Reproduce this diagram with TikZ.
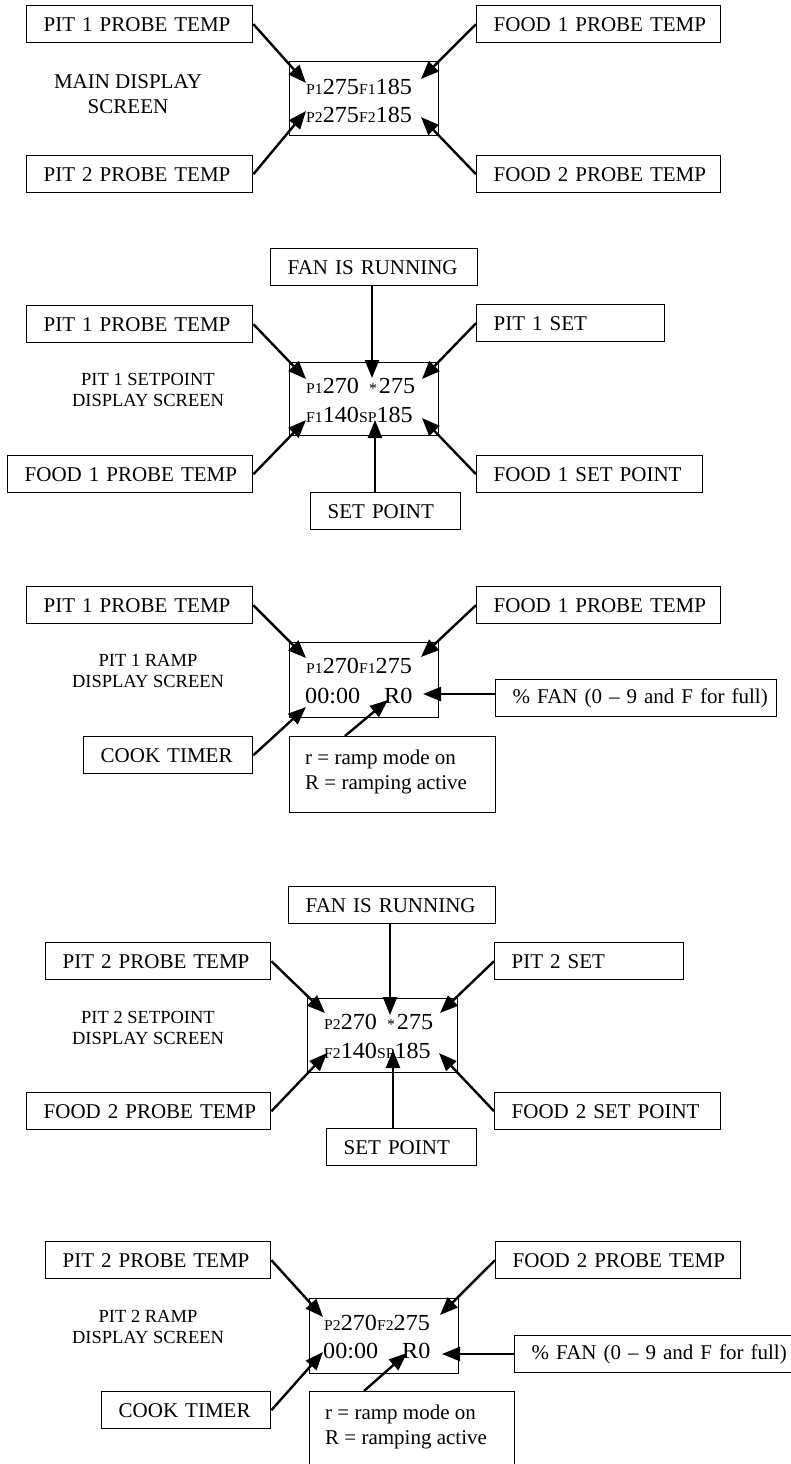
\documentclass[tikz,border=0pt]{standalone}
\usepackage{fontspec}
\setmainfont{Liberation Serif}
\newfontfamily\lcdfont[FakeStretch=1.05]{Liberation Serif}
\usetikzlibrary{arrows.meta}
\newcommand\lbltext{\fontsize{21}{25}\selectfont}
\newcommand\captext{\fontsize{18.5}{21}\selectfont}
\newcommand\lcdtext{\lcdfont\fontsize{23}{28}\selectfont}
\newcommand\lcdtag[1]{{\fontsize{15}{15}\selectfont #1}}
\newcommand\lcdstar{{\fontsize{15}{15}\selectfont *}}
\tikzset{
lbl/.style={draw,line width=1.4pt,anchor=north west,font=\lbltext,minimum height=37pt,inner xsep=0pt,inner ysep=0pt,text width=#1,align=left,execute at begin node={\hspace*{17pt}}},
disp/.style 2 args={draw,line width=1.4pt,anchor=north west,minimum width=#1,minimum height=#2,inner sep=0pt},
lcd/.style={anchor=base west,inner sep=0pt,font=\lcdtext},
scrcap/.style={align=center,inner sep=0pt,font=\captext},
notebox/.style={anchor=north west,align=left,inner sep=0pt,font=\lbltext},
ptr/.style={line width=2.4pt,-{Triangle[length=18pt,width=14pt]}}
}
\begin{document}
\begin{tikzpicture}[x=1pt,y=-1pt]
\clip (0,0) rectangle (791,1464);
\node[lbl=226pt] (pitA) at (26,5) {PIT 1 PROBE TEMP};
\node[lbl=244pt] (foodA) at (476,5) {FOOD 1 PROBE TEMP};
\node[lbl=226pt] (pitB) at (26,155) {PIT 2 PROBE TEMP};
\node[lbl=244pt] (foodB) at (476,155) {FOOD 2 PROBE TEMP};
\node[disp={149pt}{74pt}] (mainScr) at (289,61) {};
\node[lcd] (mainL1) at ([shift={(17,33)}]mainScr.north west) {\lcdtag{P1}275\lcdtag{F1}185};
\node[lcd] (mainL2) at ([shift={(17,61)}]mainScr.north west) {\lcdtag{P2}275\lcdtag{F2}185};
\node[scrcap,font=\lbltext] (mainCap) at (128,94) {MAIN DISPLAY\\SCREEN};
\coordinate (mainP1) at ([shift={(17,22)}]mainScr.north west);
\coordinate (mainP2) at ([shift={(17,50)}]mainScr.north west);
\coordinate (mainF1) at ([shift={(132,18)}]mainScr.north west);
\coordinate (mainF2) at ([shift={(132,56)}]mainScr.north west);
\draw[ptr] (pitA.east)--(mainP1);
\draw[ptr] (pitB.east)--(mainP2);
\draw[ptr] (foodA.west)--(mainF1);
\draw[ptr] (foodB.west)--(mainF2);

\node[lbl=207pt] (fanA) at (270,248) {FAN IS RUNNING};
\node[lbl=226pt] (pitC) at (26,305) {PIT 1 PROBE TEMP};
\node[lbl=188pt] (setA) at (476,304) {PIT 1 SET};
\node[lbl=245pt] (foodC) at (7,455) {FOOD 1 PROBE TEMP};
\node[lbl=226pt] (fsetA) at (476,455) {FOOD 1 SET POINT};
\node[lbl=150pt] (spA) at (310,492) {SET POINT};
\node[disp={149pt}{73pt}] (spScrA) at (289,362) {};
\node[lcd] (spA1) at ([shift={(17,31)}]spScrA.north west) {\lcdtag{P1}270\hspace{10pt}\lcdstar\hspace{2pt}275};
\node[lcd] (spA2) at ([shift={(17,60)}]spScrA.north west) {\lcdtag{F1}140\lcdtag{SP}185};
\node[scrcap] (spCapA) at (148,390) {PIT 1 SETPOINT\\DISPLAY SCREEN};
\coordinate (spAp) at ([shift={(17,17)}]spScrA.north west);
\coordinate (spAfan) at ([shift={(83,16)}]spScrA.north west);
\coordinate (spAset) at ([shift={(133,17)}]spScrA.north west);
\coordinate (spAf) at ([shift={(17,58)}]spScrA.north west);
\coordinate (spAsp) at ([shift={(86,58)}]spScrA.north west);
\coordinate (spAfs) at ([shift={(133,56)}]spScrA.north west);
\draw[ptr] (pitC.east)--(spAp);
\draw[ptr] (spAfan |- fanA.south)--(spAfan);
\draw[ptr] (setA.west)--(spAset);
\draw[ptr] (foodC.east)--(spAf);
\draw[ptr] (spAsp |- spA.north)--(spAsp);
\draw[ptr] (fsetA.west)--(spAfs);

\node[lbl=226pt] (pitD) at (26,586) {PIT 1 PROBE TEMP};
\node[lbl=244pt] (foodD) at (476,586) {FOOD 1 PROBE TEMP};
\node[lbl=169pt] (cookA) at (83,736) {COOK TIMER};
\node[lbl=281pt] (pctA) at (495,679) {\% FAN (0 -- 9 and F for full)};
\node[disp={149pt}{75pt}] (rampA) at (289,642) {};
\node[disp={206pt}{76pt}] (modeA) at (289,736) {};
\node[notebox] (modeAtxt) at ([shift={(16,14)}]modeA.north west) {r = ramp mode on\\R = ramping active};
\node[lcd] (rampA1) at ([shift={(17,31)}]rampA.north west) {\lcdtag{P1}270\lcdtag{F1}275};
\node[lcd] (rampA2) at ([shift={(16,61)}]rampA.north west) {00:00\hspace{24pt}R0};
\node[scrcap] (rampCapA) at (148,671) {PIT 1 RAMP\\DISPLAY SCREEN};
\coordinate (rampAp) at ([shift={(17,16)}]rampA.north west);
\coordinate (rampAf) at ([shift={(132,15)}]rampA.north west);
\coordinate (rampAt) at ([shift={(17,65)}]rampA.north west);
\coordinate (rampAr) at ([shift={(99,58)}]rampA.north west);
\coordinate (rampAfan) at ([shift={(134,52)}]rampA.north west);
\draw[ptr] (pitD.east)--(rampAp);
\draw[ptr] (foodD.west)--(rampAf);
\draw[ptr] (cookA.east)--(rampAt);
\draw[ptr] ([xshift=56pt]modeA.north west)--(rampAr);
\draw[ptr] (pctA.west |- rampAfan)--(rampAfan);

\node[lbl=207pt] (fanB) at (288,886) {FAN IS RUNNING};
\node[lbl=225pt] (pitE) at (45,942) {PIT 2 PROBE TEMP};
\node[lbl=189pt] (setB) at (494,942) {PIT 2 SET};
\node[lbl=244pt] (foodE) at (26,1092) {FOOD 2 PROBE TEMP};
\node[lbl=226pt] (fsetB) at (494,1092) {FOOD 2 SET POINT};
\node[lbl=150pt] (spB) at (326,1128) {SET POINT};
\node[disp={150pt}{74pt}] (spScrB) at (307,998) {};
\node[lcd] (spB1) at ([shift={(17,31)}]spScrB.north west) {\lcdtag{P2}270\hspace{10pt}\lcdstar\hspace{2pt}275};
\node[lcd] (spB2) at ([shift={(17,60)}]spScrB.north west) {\lcdtag{F2}140\lcdtag{SP}185};
\node[scrcap] (spCapB) at (148,1028) {PIT 2 SETPOINT\\DISPLAY SCREEN};
\coordinate (spBp) at ([shift={(18,15)}]spScrB.north west);
\coordinate (spBfan) at ([shift={(83,17)}]spScrB.north west);
\coordinate (spBset) at ([shift={(133,15)}]spScrB.north west);
\coordinate (spBf) at ([shift={(20,55)}]spScrB.north west);
\coordinate (spBsp) at ([shift={(86,52)}]spScrB.north west);
\coordinate (spBfs) at ([shift={(132,55)}]spScrB.north west);
\draw[ptr] (pitE.east)--(spBp);
\draw[ptr] (spBfan |- fanB.south)--(spBfan);
\draw[ptr] (setB.west)--(spBset);
\draw[ptr] (foodE.east)--(spBf);
\draw[ptr] (spBsp |- spB.north)--(spBsp);
\draw[ptr] (fsetB.west)--(spBfs);

\node[lbl=225pt] (pitF) at (45,1241) {PIT 2 PROBE TEMP};
\node[lbl=245pt] (foodF) at (495,1241) {FOOD 2 PROBE TEMP};
\node[lbl=169pt] (cookB) at (101,1391) {COOK TIMER};
\node[lbl=281pt] (pctB) at (514,1335) {\% FAN (0 -- 9 and F for full)};
\node[disp={149pt}{75pt}] (rampB) at (309,1298) {};
\node[disp={205pt}{90pt}] (modeB) at (309,1391) {};
\node[notebox] (modeBtxt) at ([shift={(16,14)}]modeB.north west) {r = ramp mode on\\R = ramping active};
\node[lcd] (rampB1) at ([shift={(15,32)}]rampB.north west) {\lcdtag{P2}270\lcdtag{F2}275};
\node[lcd] (rampB2) at ([shift={(14,60)}]rampB.north west) {00:00\hspace{24pt}R0};
\node[scrcap] (rampCapB) at (148,1327) {PIT 2 RAMP\\DISPLAY SCREEN};
\coordinate (rampBp) at ([shift={(14,19)}]rampB.north west);
\coordinate (rampBf) at ([shift={(131,17)}]rampB.north west);
\coordinate (rampBt) at ([shift={(14,54)}]rampB.north west);
\coordinate (rampBr) at ([shift={(98,55)}]rampB.north west);
\coordinate (rampBfan) at ([shift={(133,56)}]rampB.north west);
\draw[ptr] (pitF.east)--(rampBp);
\draw[ptr] (foodF.west)--(rampBf);
\draw[ptr] (cookB.east)--(rampBt);
\draw[ptr] ([xshift=55pt]modeB.north west)--(rampBr);
\draw[ptr] (pctB.west |- rampBfan)--(rampBfan);
\end{tikzpicture}
\end{document}
